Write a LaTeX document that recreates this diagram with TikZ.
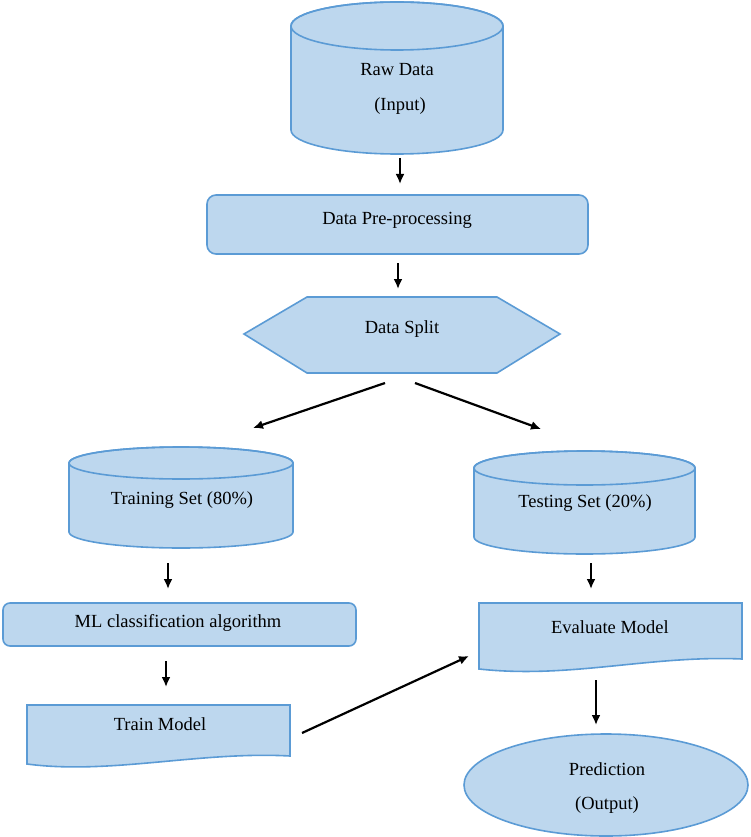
\documentclass[tikz,border=0pt]{standalone}
\usepackage{fontspec}
\setmainfont{Liberation Serif}
\usetikzlibrary{arrows.meta}
\definecolor{boxfill}{HTML}{BDD7EE}
\definecolor{boxline}{HTML}{5B9BD5}
\tikzset{
  shapebox/.style={fill=boxfill, draw=boxline, line width=1.6pt},
  lbl/.style={inner sep=0pt, font=\fontsize{18.5}{22}\selectfont, text=black},
  flow/.style={draw=black, line width=2.2pt, -{Latex[length=10pt,width=9pt]}}
}
\begin{document}
\begin{tikzpicture}[x=1pt,y=-1pt]
\useasboundingbox (0,0) rectangle (750,837);
% Raw Data cylinder
\path[shapebox] (291,26) -- (291,130) arc[start angle=180,end angle=0,x radius=106,y radius=24] -- (503,26) arc[start angle=0,end angle=-180,x radius=106,y radius=24] -- cycle;
\draw[shapebox, fill=none] (397,26) ellipse[x radius=106,y radius=24];
\node[lbl] (raw) at (397,70) {Raw Data};
\node[lbl] (rawin) at (400,106) {(Input)};
% Data pre-processing
\draw[shapebox, rounded corners=9pt] (207,195) rectangle (588,254);
\node[lbl] (pre) at (397,220) {Data Pre-processing};
% Data split hexagon
\draw[shapebox] (244,334) -- (307,297) -- (497,297) -- (560,334) -- (497,373) -- (307,373) -- cycle;
\node[lbl] (split) at (402,329) {Data Split};
% Training set cylinder
\path[shapebox] (69,463) -- (69,532) arc[start angle=180,end angle=0,x radius=112,y radius=16] -- (293,463) arc[start angle=0,end angle=-180,x radius=112,y radius=16] -- cycle;
\draw[shapebox, fill=none] (181,463) ellipse[x radius=112,y radius=16];
\node[lbl] (train) at (182,500) {Training Set (80\%)};
% Testing set cylinder
\path[shapebox] (474,468) -- (474,537) arc[start angle=180,end angle=0,x radius=110.5,y radius=17] -- (695,468) arc[start angle=0,end angle=-180,x radius=110.5,y radius=17] -- cycle;
\draw[shapebox, fill=none] (584.5,468) ellipse[x radius=110.5,y radius=17];
\node[lbl] (test) at (585,503) {Testing Set (20\%)};
% ML classification
\draw[shapebox, rounded corners=7pt] (3,603) rectangle (356,646);
\node[lbl] (ml) at (178,623) {ML classification algorithm};
% Train model document
\draw[shapebox] (27,705) -- (290,705) -- (290,756) .. controls (200,751) and (110,775) .. (27,764) -- cycle;
\node[lbl] (tm) at (160,724) {Train Model};
% Evaluate model document
\draw[shapebox] (479,603) -- (742,603) -- (742,659) .. controls (650,655) and (570,679) .. (479,669) -- cycle;
\node[lbl] (ev) at (610,627) {Evaluate Model};
% Prediction ellipse
\draw[shapebox] (606,785) ellipse[x radius=142,y radius=51];
\node[lbl] (pred) at (607,769) {Prediction};
\node[lbl] (predout) at (607,805) {(Output)};
% arrow coordinates
\coordinate (a1s) at (400,158); \coordinate (a1e) at (400,184);
\coordinate (a2s) at (398,263); \coordinate (a2e) at (398,289);
\coordinate (a3s) at (385,383); \coordinate (a3e) at (253,428);
\coordinate (a4s) at (415,383); \coordinate (a4e) at (541,429);
\coordinate (a5s) at (168,563); \coordinate (a5e) at (168,589);
\coordinate (a6s) at (591,563); \coordinate (a6e) at (591,589);
\coordinate (a7s) at (166,661); \coordinate (a7e) at (166,687);
\coordinate (a8s) at (302,733); \coordinate (a8e) at (469,656);
\coordinate (a9s) at (596,680); \coordinate (a9e) at (596,725);
\draw[flow] (a1s) -- (a1e);
\draw[flow] (a2s) -- (a2e);
\draw[flow] (a3s) -- (a3e);
\draw[flow] (a4s) -- (a4e);
\draw[flow] (a5s) -- (a5e);
\draw[flow] (a6s) -- (a6e);
\draw[flow] (a7s) -- (a7e);
\draw[flow] (a8s) -- (a8e);
\draw[flow] (a9s) -- (a9e);
\end{tikzpicture}
\end{document}
